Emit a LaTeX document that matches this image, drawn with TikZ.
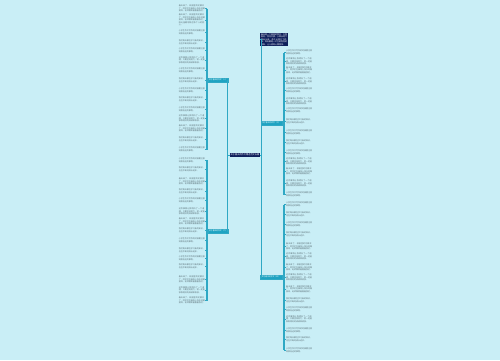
\documentclass[tikz,border=0pt]{standalone}
\usepackage{fontspec}
\newfontfamily\cjk{Noto Sans CJK SC}
\XeTeXlinebreaklocale "zh"
\XeTeXlinebreakskip=0pt plus 1pt
\definecolor{bgc}{HTML}{C9EEF6}
\definecolor{linec}{HTML}{2FA8C4}
\definecolor{tealc}{HTML}{1EA3C2}
\definecolor{navyc}{HTML}{0E1F5B}
\definecolor{leafc}{HTML}{5A6E75}
\newcommand\leaffont{\cjk\fontsize{2}{2.6}\selectfont}
\newcommand\boxfont{\cjk\fontsize{2}{2.6}\selectfont}
\newcommand\pick[2]{\ifcase#1\or
 春天来了花开了。\or
 \ifodd#2 小学生作文写作的时候要注意观察身边的事物。\else 我们每天都在学习新的知识，也在不断地成长进步。\fi\or
 \ifodd#2 春天来了，校园里的花都开了，同学们在操场上快乐地做游戏，老师微笑着看着我们。\else 这件事情让我明白了一个道理，只要坚持努力，就一定能够取得好的成绩和收获。\fi\or
 春天来了，校园里的花都开了，同学们在操场上快乐地做游戏，老师微笑着看着我们，阳光温暖地照在每个人的脸上。\fi}
\begin{document}
\begin{tikzpicture}[x=1pt,y=-1pt,
  conn/.style={draw=linec,line width=0.7pt},
  barline/.style={draw=linec,line width=1.1pt},
  leafL/.style={anchor=east,text width=26pt,align=left,inner sep=0pt,font=\leaffont,text=leafc},
  leafR/.style={leafL,anchor=west},
  navybox/.style={fill=navyc,text=white,inner sep=0.8pt,font=\boxfont},
  branchbox/.style={fill=tealc,draw=linec,line width=0.3pt,text=white,inner sep=0.5pt,minimum height=3.6pt,font=\cjk\fontsize{1.8}{2}\selectfont}]
\useasboundingbox (0,0) rectangle (500,360);
\fill[bgc] (0,0) rectangle (500,360);

% central and main nodes
\node[navybox,minimum width=26pt,minimum height=4.6pt,font=\cjk\fontsize{2.2}{2.6}\selectfont] (C) at (245,155) {关于春天的作文精选范文五篇};
\node[navybox,text width=26pt,align=left,anchor=west] (T) at (260,39.5) {春天是一个美丽的季节，万物复苏，百花齐放，小草从地下探出头来，燕子从南方飞回来，到处都是一片生机勃勃的景象，让人感到心情愉快。};
\node[branchbox,minimum width=20pt,anchor=west] (B1) at (208,80) {关于春天的作文（一）};
\node[branchbox,minimum width=20pt,anchor=west] (B2) at (208,231) {关于春天的作文（二）};
\node[branchbox,minimum width=21pt,anchor=east] (B3) at (282,123) {关于春天的作文（三）};
\node[branchbox,minimum width=22pt,anchor=east] (B4) at (282,277) {关于春天的作文（四）};

% leaves
\foreach \y/\n [count=\i] in {8.5/3,20/4,32.5/2,42.5/2,50.5/2,60/3,70.5/2,80.5/2,90.5/2,99.5/2,109.5/2,118.5/3,128.5/3,139.5/2,149.5/2}
  \node[leafL] (La\i) at (205,\y) {\pick{\n}{\i}};
\foreach \y/\n [count=\i] in {160/2,169.5/2,181.5/3,191.5/2,200.5/2,211.5/3,221.5/3,230.5/2,240.5/2,250/2,258.5/2,266.5/2,279.5/3,290/3,300.5/3}
  \node[leafL] (Lb\i) at (205,\y) {\pick{\n}{\i}};
\foreach \y/\n [count=\i] in {52.5/2,61.5/3,70/3,81.5/3,90.5/2,101.5/3,110.5/2,121/2,132.5/2,142.5/2,152.5/2,161.5/3,171.5/3,183.5/3,194.5/2}
  \node[leafR] (Ra\i) at (286,\y) {\pick{\n}{\i}};
\foreach \y/\n [count=\i] in {204.5/2,214.5/2,224.5/2,234.5/2,246.5/3,256.5/3,267.5/3,277.5/3,289/3,300/2,309.5/2,319/3,330/2,339.5/2,350/2}
  \node[leafR] (Rb\i) at (286,\y) {\pick{\n}{\i}};

% connectors centre to branches
\draw[conn] (C.west) -- ([xshift=-2pt]C.west);
\draw[conn] (B1.east) -| ([xshift=-2pt]C.west) |- (B2.east);
\draw[conn] (C.east) -- ([xshift=1pt]C.east);
\draw[conn] (T.west) -| ([xshift=1pt]C.east) |- (B4.west);
\draw[conn] ([xshift=1pt]C.east) |- (B3.west);

% brackets
\draw[barline] ([xshift=2pt]La1.east) -- ([xshift=2pt]La15.east);
\draw[barline] ([xshift=2pt]Lb1.east) -- ([xshift=2pt]Lb15.east);
\draw[barline] ([xshift=-2pt]Ra1.west) -- ([xshift=-2pt]Ra15.west);
\draw[barline] ([xshift=-2pt]Rb1.west) -- ([xshift=-2pt]Rb15.west);
\foreach \i in {1,...,15} {
  \draw[conn] (La\i.east) -- ([xshift=2pt]La\i.east);
  \draw[conn] (Lb\i.east) -- ([xshift=2pt]Lb\i.east);
  \draw[conn] (Ra\i.west) -- ([xshift=-2pt]Ra\i.west);
  \draw[conn] (Rb\i.west) -- ([xshift=-2pt]Rb\i.west);
}
\draw[conn] (B1.west) -- ([xshift=-1pt]B1.west);
\draw[conn] (B2.west) -- ([xshift=-1pt]B2.west);
\draw[conn] (B3.east) -- ([xshift=2pt]B3.east);
\draw[conn] (B4.east) -- ([xshift=2pt]B4.east);
\end{tikzpicture}
\end{document}
